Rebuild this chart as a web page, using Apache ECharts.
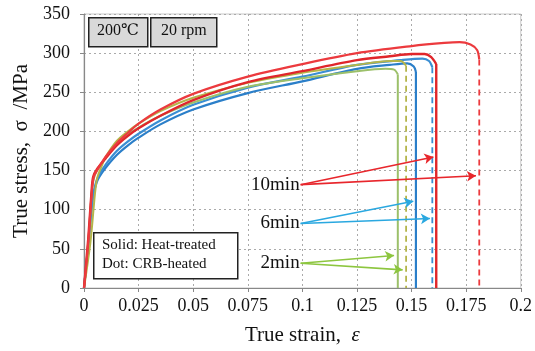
<!DOCTYPE html>
<html><head><meta charset="utf-8">
<script src="https://cdn.jsdelivr.net/npm/echarts@6/dist/echarts.min.js"></script>
<style>html,body{margin:0;padding:0;background:#fff}#c{width:535px;height:351px}</style>
</head><body><div id="c"></div>
<script>
// ---- data (strain, stress MPa) ----
const xTicks = [0, 0.025, 0.05, 0.075, 0.1, 0.125, 0.15, 0.175, 0.2];
const yTicks = [0, 50, 100, 150, 200, 250, 300, 350];

const red10CRB = [[0,0],[0.002,60],[0.0035,120],[0.0045,142],[0.007,155],[0.01,168],[0.015,185],[0.02,198],[0.025,210],[0.035,228],[0.05,248],[0.075,270],[0.1,286],[0.125,300],[0.15,309],[0.165,313],[0.172,314],[0.177,311],[0.18,304],[0.181,292]];
const red10HT  = [[0,0],[0.002,65],[0.0035,125],[0.0042,142],[0.006,152],[0.01,166],[0.015,182],[0.02,194],[0.025,204],[0.035,220],[0.05,240],[0.075,263],[0.1,277],[0.125,291],[0.14,296],[0.15,299],[0.156,299],[0.159,295],[0.1613,286]];
const green2CRB = [[0,0],[0.003,60],[0.005,120],[0.006,140],[0.008,155],[0.01,168],[0.015,188],[0.02,200],[0.025,210],[0.035,226],[0.05,243],[0.075,262],[0.1,275],[0.125,285],[0.14,290],[0.145,290],[0.1475,284]];
const green2HT  = [[0,0],[0.002,60],[0.0035,120],[0.0045,140],[0.006,150],[0.01,166],[0.015,184],[0.02,196],[0.025,205],[0.035,220],[0.05,237],[0.075,257],[0.1,268],[0.125,277],[0.138,280],[0.142,279],[0.1437,273]];
const blue6CRB = [[0,0],[0.002,55],[0.004,115],[0.0055,135],[0.007,145],[0.01,158],[0.015,175],[0.02,187],[0.025,197],[0.035,214],[0.05,234],[0.075,256],[0.1,270],[0.125,285],[0.145,291],[0.155,293],[0.158,290],[0.1595,282]];
const blue6HT  = [[0,0],[0.002,55],[0.004,115],[0.0058,135],[0.007,142],[0.01,154],[0.015,170],[0.02,182],[0.025,192],[0.035,209],[0.05,228],[0.075,249],[0.1,264],[0.125,280],[0.14,285],[0.148,287],[0.151,283],[0.152,276]];

// annotations: label, anchor [x,y], arrow tips
const annLabels = ['10min', '6min', '2min'];
const annAnchors = [[0.0992,132],[0.0992,82.4],[0.0992,31.7]];
const annTips = [[[0.160,167.4],[0.1795,143.3]],[[0.1508,110.7],[0.1584,88.8]],[[0.142,41.5],[0.1459,23.2]]];
const annColors = ['#e8262c','#2aa8e0','#8dc63f'];

const SERIF = '"Liberation Serif","DejaVu Serif",serif';
const chart = echarts.init(document.getElementById('c'));

function curve(name, data, color, width, dashed) {
  const last = data[data.length - 1];
  const out = [{
    name, type: 'line', data, showSymbol: false, symbol: 'none', smooth: 0.3,
    lineStyle: {color, width}, z: 3, animation: false
  }];
  const drop = [[last[0], last[1]], [last[0], 0]];
  out.push({
    name: name + ' drop', type: 'line', data: drop, showSymbol: false, symbol: 'none',
    lineStyle: {color, width: dashed ? 1.8 : width, type: dashed ? [6, 4] : 'solid'}, z: 3, animation: false
  });
  return out;
}

const series = [].concat(
  curve('blue6HT', blue6HT, '#2b7fc9', 2.2, false),
  curve('blue6CRB', blue6CRB, '#3a8ed3', 2.2, true),
  curve('green2HT', green2HT, '#9cc06a', 2, false),
  curve('green2CRB', green2CRB, '#b4b54a', 2, true),
  curve('red10HT', red10HT, '#e0262b', 2.4, false),
  curve('red10CRB', red10CRB, '#ec3a3e', 2.2, true)
);

annLabels.forEach((lab, i) => {
  const lines = annTips[i].map(t => [{coord: annAnchors[i]}, {coord: t}]);
  series.push({
    type: 'scatter', data: [annAnchors[i]], symbolSize: 0, z: 6, animation: false,
    itemStyle: {opacity: 1},
    label: {show: true, formatter: lab, position: 'left', distance: 1, fontFamily: SERIF, fontSize: 19, color: '#111'},
    markLine: {
      silent: true, animation: false, symbol: ['none', 'arrow'], symbolSize: [8, 9],
      lineStyle: {color: annColors[i], width: 1.6, type: 'solid', opacity: 1}, label: {show: false},
      data: lines
    }
  });
});

chart.setOption({
  animation: false,
  grid: {left: 84, right: 12, top: 14, bottom: 61, show: true, borderColor: '#c8c8c8', borderWidth: 1},
  xAxis: {
    type: 'value', min: 0, max: 0.2, interval: 0.025,
    name: '{n|True strain,  }{e|ε}', nameLocation: 'middle', nameGap: 37,
    nameTextStyle: {fontFamily: SERIF, fontSize: 21, color: '#111',
      rich: {n: {fontFamily: SERIF, fontSize: 21, color: '#111'}, e: {fontFamily: SERIF, fontSize: 21, fontStyle: 'italic', color: '#111'}}},
    axisLine: {show: true, lineStyle: {color: '#888', width: 1.2}},
    axisTick: {show: true, length: 4, inside: false, lineStyle: {color: '#888'}},
    axisLabel: {fontFamily: SERIF, fontSize: 18, color: '#111', margin: 9,
      formatter: v => { const t = xTicks.find(k => Math.abs(k - v) < 1e-9); return t === undefined ? '' : String(t); }},
    splitLine: {show: true, lineStyle: {color: '#aaa', type: [2, 3], width: 1}}
  },
  yAxis: {
    type: 'value', min: 0, max: 350, interval: 50,
    name: 'True stress,  σ  /MPa', nameLocation: 'middle', nameGap: 52,
    nameTextStyle: {fontFamily: SERIF, fontSize: 21, color: '#111'},
    axisLine: {show: true, lineStyle: {color: '#888', width: 1.2}},
    axisTick: {show: true, length: 4, inside: false, lineStyle: {color: '#888'}},
    axisLabel: {fontFamily: SERIF, fontSize: 18, color: '#111', margin: 14,
      formatter: v => { const t = yTicks.find(k => k === v); return t === undefined ? '' : String(t); }},
    splitLine: {show: true, lineStyle: {color: '#aaa', type: [2, 3], width: 1}}
  },
  graphic: [
    {type: 'rect', left: 88, top: 17, shape: {width: 59, height: 29}, style: {fill: '#d9d9d9', stroke: '#222', lineWidth: 1.5}, z: 10},
    {type: 'text', left: 97, top: 23, style: {text: '200℃', font: '16px ' + SERIF, fill: '#111'}, z: 11},
    {type: 'rect', left: 150, top: 17, shape: {width: 66, height: 29}, style: {fill: '#d9d9d9', stroke: '#222', lineWidth: 1.5}, z: 10},
    {type: 'text', left: 161, top: 23, style: {text: '20 rpm', font: '16px ' + SERIF, fill: '#111'}, z: 11},
    {type: 'rect', left: 93, top: 232, shape: {width: 144, height: 46}, style: {fill: '#fff', stroke: '#222', lineWidth: 1.5}, z: 10},
    {type: 'text', left: 102, top: 236, style: {text: 'Solid: Heat-treated\nDot: CRB-heated', font: '15px ' + SERIF, fill: '#111', lineHeight: 19}, z: 11}
  ],
  series
});
</script></body></html>
